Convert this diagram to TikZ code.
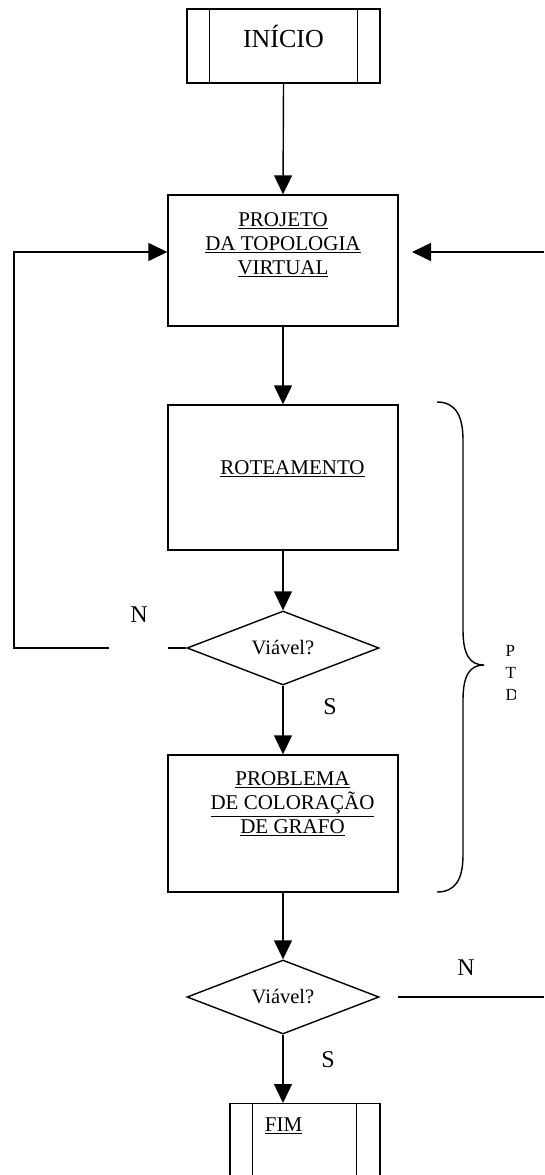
\documentclass[tikz,border=0pt]{standalone}
\usepackage{fontspec}
\setmainfont{Liberation Serif}
\usetikzlibrary{arrows.meta,shapes.geometric,calc}
\begin{document}
\begin{tikzpicture}[x=1pt,y=-1pt,line width=1.4pt,
  arr/.style={-{Triangle[length=19pt,width=18pt]}},
  boxnode/.style={draw,inner sep=0pt,minimum width=230pt},
  txt/.style={inner sep=0pt,align=center,font=\fontsize{21}{24}\selectfont},
  dec/.style={draw,diamond,inner sep=0pt,minimum width=192pt,minimum height=74pt},
  dtxt/.style={inner sep=0pt,font=\fontsize{20.5}{24}\selectfont},
  lbl/.style={inner sep=0pt,font=\fontsize{24}{28}\selectfont}]
\useasboundingbox (0,0) rectangle (544,1175);
\clip (0,0) rectangle (544,1175);
% start
\node[draw,inner sep=0pt,minimum width=193pt,minimum height=74pt] (ini) at (283.5,46) {};
\draw ([xshift=23pt]ini.north west) -- ([xshift=23pt]ini.south west);
\draw ([xshift=-23pt]ini.north east) -- ([xshift=-23pt]ini.south east);
\node[inner sep=0pt,font=\fontsize{26}{30}\selectfont] (tini) at (283.5,36.5) {INÍCIO};
% projeto
\node[boxnode,minimum height=131pt] (proj) at (283,260.5) {};
\node[txt] (tproj) at (283,245) {\underline{PROJETO}\\\underline{DA TOPOLOGIA}\\\underline{VIRTUAL}};
% roteamento
\node[boxnode,minimum height=145pt] (rot) at (283,477.5) {};
\node[txt] (trot) at (292.5,469) {\underline{ROTEAMENTO}};
% decision 1
\node[dec] (d1) at (283,648) {};
\node[dtxt] (td1) at (283,648) {Viável?};
% problema
\node[boxnode,minimum height=137pt] (prob) at (283,823.5) {};
\node[txt] (tprob) at (292.5,804) {\underline{PROBLEMA}\\\underline{DE COLORAÇÃO}\\\underline{DE GRAFO}};
% decision 2
\node[dec] (d2) at (283,997) {};
\node[dtxt] (td2) at (283,997) {Viável?};
% fim
\node[draw,inner sep=0pt,minimum width=150pt,minimum height=90pt,anchor=north] (fim) at (305,1103) {};
\draw ([xshift=23pt]fim.north west) -- ([xshift=23pt]fim.south west);
\draw ([xshift=-24pt]fim.north east) -- ([xshift=-24pt]fim.south east);
\node[txt] (tfim) at (283.5,1126) {\underline{FIM}};
% labels
\node[lbl] (n1) at (139,615) {N};
\node[lbl] (s1) at (330,707) {S};
\node[lbl] (n2) at (466,968) {N};
\node[lbl] (s2) at (328,1060) {S};
% main arrows
\draw[arr] (ini.south) -- (proj.north);
\draw[arr] (proj.south) -- (rot.north);
\draw[arr] (rot.south) -- (d1.north);
\draw[arr] (d1.south) -- (prob.north);
\draw[arr] (prob.south) -- (d2.north);
\draw[arr] (d2.south) -- (d2.south |- fim.north);
% loop back from decision 1
\draw[arr] (d1.west) -- ++(-18,0) ++(-59,0) -- (14,648) |- ([yshift=8.5pt]proj.west);
% loop back from decision 2 (right side)
\coordinate (rin) at (544,252);
\coordinate (rtip) at (412,252);
\draw[arr] (rin) -- (rtip);
\coordinate (na) at (398,997);
\coordinate (nb) at (544,997);
\draw (na) -- (nb);
% brace
\draw (437,402) .. controls (455,402) and (463,415) .. (463,440)
  -- (463,630) .. controls (463,655) and (470,665) .. (484,665)
  .. controls (470,665) and (463,675) .. (463,700)
  -- (463,855) .. controls (463,880) and (455,892) .. (437,892);
\begin{scope}
\clip (495,630) rectangle (515,710);
\node[inner sep=0pt,align=left,anchor=north west,font=\fontsize{17}{22}\selectfont] (ptd) at (505,645) {P\\T\\D};
\end{scope}
\end{tikzpicture}
\end{document}
